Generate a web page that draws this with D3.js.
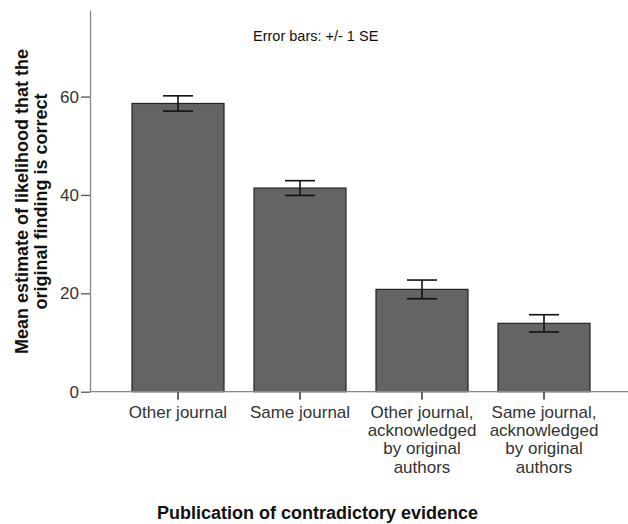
<!DOCTYPE html>
<html><head><meta charset="utf-8">
<script src="https://cdn.jsdelivr.net/npm/d3@7"></script>
<style>body{margin:0;background:#fff}svg{display:block}text{font-family:"Liberation Sans",Arial,sans-serif}</style>
</head><body>
<script>
const categories = [["Other journal"],["Same journal"],["Other journal,","acknowledged","by original","authors"],["Same journal,","acknowledged","by original","authors"]];
const catKeys = ["c1","c2","c3","c4"];
const means = [58.6, 41.4, 20.8, 13.9];
const se = [1.55, 1.5, 1.9, 1.75];
const yTicks = [0, 20, 40, 60];

const W = 628, H = 524;
const svg = d3.select("body").append("svg").attr("width", W).attr("height", H);
const y = d3.scaleLinear().domain([0, 77.6]).range([391.7, 10]);
const x = d3.scaleBand().domain(catKeys).range([117, 605]).paddingInner(0.246).paddingOuter(0.123);

// bars
svg.append("g").selectAll("rect").data(means).join("rect")
  .attr("x", (d,i)=>x(catKeys[i])).attr("width", x.bandwidth())
  .attr("y", d=>y(d)).attr("height", d=>y(0)-y(d))
  .attr("fill", "#646464").attr("stroke", "#222").attr("stroke-width", 1.2);

// error bars
const eg = svg.append("g").attr("stroke", "#111").attr("stroke-width", 1.6).attr("fill","none");
means.forEach((m,i)=>{
  const cx = x(catKeys[i]) + x.bandwidth()/2;
  eg.append("line").attr("x1",cx).attr("x2",cx).attr("y1",y(m+se[i])).attr("y2",y(m-se[i]));
  eg.append("line").attr("x1",cx-15).attr("x2",cx+15).attr("y1",y(m+se[i])).attr("y2",y(m+se[i]));
  eg.append("line").attr("x1",cx-15).attr("x2",cx+15).attr("y1",y(m-se[i])).attr("y2",y(m-se[i]));
});

// y axis
const ya = svg.append("g").attr("transform","translate(90,0)")
  .call(d3.axisLeft(y).tickValues(yTicks).tickSize(9).tickPadding(2).tickSizeOuter(0));
ya.select(".domain").attr("stroke","#888").attr("stroke-width",1.3);
ya.selectAll(".tick line").attr("stroke","#555").attr("stroke-width",1.3);
ya.selectAll(".tick text").attr("font-size",17).attr("fill","#333").attr("font-family","Liberation Sans, Arial, sans-serif");

// x axis
const xa = svg.append("g").attr("transform",`translate(0,${y(0)})`)
  .call(d3.axisBottom(x).tickSize(8).tickFormat(""));
xa.select(".domain").remove();
xa.selectAll(".tick line").attr("stroke","#333").attr("stroke-width",1.5);
svg.append("line").attr("x1",90).attr("x2",628).attr("y1",y(0)).attr("y2",y(0)).attr("stroke","#888").attr("stroke-width",1.3);

// category labels
categories.forEach((lines,i)=>{
  const cx = x(catKeys[i]) + x.bandwidth()/2;
  const t = svg.append("text").attr("text-anchor","middle").attr("font-size",17).attr("fill","#333");
  lines.forEach((l,j)=>t.append("tspan").attr("x",cx).attr("y",417.7+j*18.3).text(l));
});

// y title
const yt = svg.append("text").attr("transform","translate(0,201.5) rotate(-90)")
  .attr("text-anchor","middle").attr("font-size",18).attr("font-weight","bold").attr("fill","#111");
yt.append("tspan").attr("x",0).attr("y",28).text("Mean estimate of likelihood that the");
yt.append("tspan").attr("x",0).attr("y",47).text("original finding is correct");

// x title
svg.append("text").attr("x",317.5).attr("y",519).attr("text-anchor","middle")
  .attr("font-size",18).attr("font-weight","bold").attr("fill","#111")
  .text("Publication of contradictory evidence");

// note
svg.append("text").attr("x",253).attr("y",40.5).attr("font-size",14.5).attr("fill","#111")
  .text("Error bars: +/- 1 SE");
</script>
</body></html>
